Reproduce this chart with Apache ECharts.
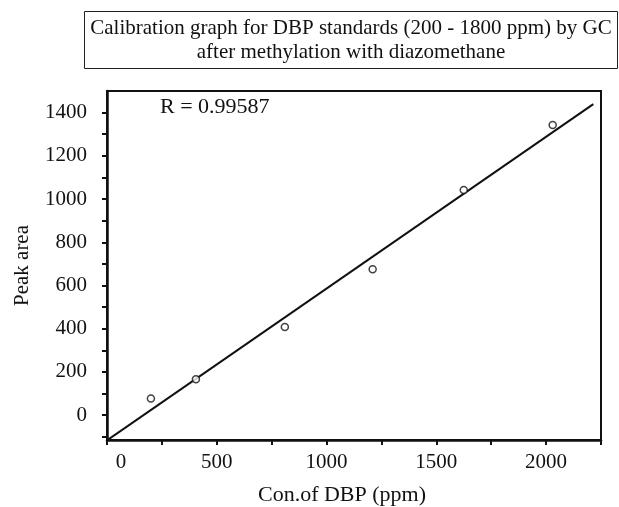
<!DOCTYPE html>
<html>
<head>
<meta charset="utf-8">
<script src="https://cdn.jsdelivr.net/npm/echarts@6/dist/echarts.min.js"></script>
<style>
    html, body { margin: 0; padding: 0; background: #fff; }
    #chart { width: 619px; height: 507px; }
</style>
</head>
<body>
<div id="chart"></div>
<script>
// DBP standards (ppm) and measured GC peak areas
const conc = [200, 405, 810, 1210, 1625, 2030];
const peakArea = [77, 166, 408, 675, 1042, 1343];

// axis ticks and labels
const xTicks = [0, 250, 500, 750, 1000, 1250, 1500, 1750, 2000, 2250];
const xLabels = [0, 500, 1000, 1500, 2000];
const yTicks = [-100, 0, 100, 200, 300, 400, 500, 600, 700, 800, 900, 1000, 1100, 1200, 1300, 1400];
const yLabels = [0, 200, 400, 600, 800, 1000, 1200, 1400];

// x span of the fitted line
const fitRange = [0, 2215];

const titleText = 'Calibration graph for DBP standards (200 - 1800 ppm) by GC\nafter methylation with diazomethane';
const rText = 'R = 0.99587';

const serif = "'Liberation Serif', 'Times New Roman', serif";

// least squares line through the standards
const n = conc.length;
const mx = conc.reduce((s, v) => s + v, 0) / n;
const my = peakArea.reduce((s, v) => s + v, 0) / n;
let sxy = 0, sxx = 0;
for (let i = 0; i < n; i++) {
    sxy += (conc[i] - mx) * (peakArea[i] - my);
    sxx += (conc[i] - mx) * (conc[i] - mx);
}
const slope = sxy / sxx;
const intercept = my - slope * mx;
const fitLine = fitRange.map(x => [x, intercept + slope * x]);

const myChart = echarts.init(document.getElementById('chart'));

const option = {
    animation: false,
    backgroundColor: '#fff',
    graphic: [
        {
            // boxed title
            type: 'rect',
            left: 84,
            top: 11,
            shape: { width: 533, height: 57 },
            style: { fill: '#fff', stroke: '#222', lineWidth: 1 }
        },
        {
            type: 'text',
            x: 351,
            y: 40,
            style: {
                text: titleText,
                font: "21px 'Liberation Serif', 'Times New Roman', serif",
                fill: '#111',
                align: 'center',
                verticalAlign: 'middle',
                lineHeight: 24
            }
        },
        {
            type: 'text',
            left: 160,
            top: 96,
            style: {
                text: rText,
                font: "22px 'Liberation Serif', 'Times New Roman', serif",
                fill: '#111'
            }
        }
    ],
    grid: {
        left: 107,
        right: 18,
        top: 91,
        bottom: 67,
        show: true,
        borderColor: '#111',
        borderWidth: 2,
        containLabel: false,
        outerBoundsMode: 'none'
    },
    xAxis: {
        type: 'value',
        min: 0,
        max: 2250,
        name: 'Con.of DBP (ppm)',
        nameLocation: 'middle',
        nameGap: 44,
        nameTextStyle: {
            fontFamily: serif,
            fontSize: 22,
            color: '#111',
            padding: [0, 24, 0, 0]
        },
        axisLine: { onZero: false, lineStyle: { color: '#111', width: 2.5 } },
        axisTick: {
            show: true,
            inside: false,
            length: 5,
            customValues: xTicks,
            lineStyle: { color: '#111', width: 2 }
        },
        axisLabel: {
            customValues: xLabels,
            margin: 12,
            fontFamily: serif,
            fontSize: 21,
            color: '#111',
            formatter: v => (v === 0 ? '{z|0}' : String(v)),
            rich: {
                z: {
                    fontFamily: serif,
                    fontSize: 21,
                    color: '#111',
                    padding: [0, 0, 0, 28]
                }
            }
        },
        splitLine: { show: false }
    },
    yAxis: {
        type: 'value',
        min: -115,
        max: 1500,
        name: 'Peak area',
        nameLocation: 'middle',
        nameGap: 74,
        nameRotate: 90,
        nameTextStyle: {
            fontFamily: serif,
            fontSize: 21,
            color: '#111'
        },
        axisLine: { onZero: false, lineStyle: { color: '#111', width: 2.5 } },
        axisTick: {
            show: true,
            inside: false,
            length: 5,
            customValues: yTicks,
            lineStyle: { color: '#111', width: 2 }
        },
        axisLabel: {
            customValues: yLabels,
            margin: 20,
            fontFamily: serif,
            fontSize: 21,
            color: '#111',
            formatter: v => String(v)
        },
        splitLine: { show: false }
    },
    series: [
        {
            name: 'Fit',
            type: 'line',
            data: fitLine,
            showSymbol: false,
            symbol: 'none',
            lineStyle: { color: '#111', width: 2 },
            z: 2
        },
        {
            name: 'Standards',
            type: 'scatter',
            data: conc.map((x, i) => [x, peakArea[i]]),
            symbol: 'circle',
            symbolSize: 7,
            itemStyle: {
                color: '#fff',
                borderColor: '#111',
                borderWidth: 1.5
            },
            z: 3
        }
    ]
};

myChart.setOption(option);

window.addEventListener('resize', () => {
    myChart.resize();
});
</script>
</body>
</html>
